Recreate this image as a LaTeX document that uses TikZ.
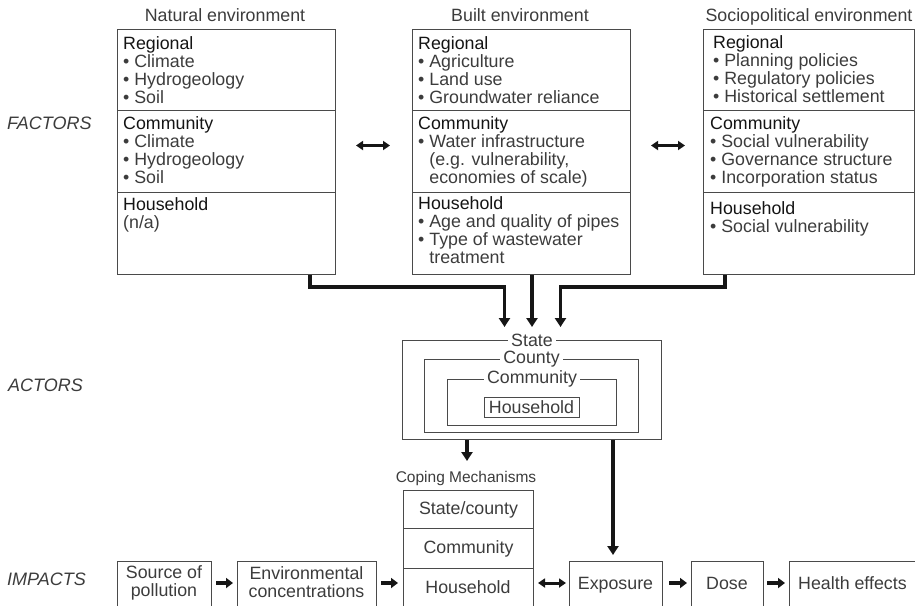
\documentclass[tikz,border=0pt]{standalone}
\usepackage{fontspec}
\setmainfont{Liberation Sans}
\usetikzlibrary{arrows.meta,calc}
\definecolor{itemc}{HTML}{3C3C3C}
\definecolor{headc}{HTML}{141414}
\definecolor{linec}{HTML}{4A4A4A}
\definecolor{arrc}{HTML}{161616}
\newcommand\mainfs{\fontsize{17.8}{18}\selectfont}
\begin{document}
\begin{tikzpicture}[x=1pt,y=-1pt,
  item/.style={inner sep=0pt, text=itemc, font=\mainfs, anchor=base west},
  head/.style={item, text=headc},
  title/.style={inner sep=0pt, text=itemc, font=\mainfs, anchor=base},
  side/.style={inner sep=0pt, text=itemc, font=\fontsize{18}{18}\selectfont\itshape, anchor=base west},
  panel/.style={draw=linec, line width=1pt, anchor=north west, inner sep=0pt},
  rule/.style={draw=linec, line width=1pt},
  frame/.style={draw=linec, line width=1pt, anchor=north west, inner sep=0pt, text=itemc, font=\mainfs},
  tag/.style={fill=white, inner xsep=3pt, inner ysep=0pt, text=itemc, font=\mainfs},
  conn/.style={draw=arrc, line width=3.5pt, -{Triangle[length=9pt,width=11pt]}},
  small/.style={draw=arrc, line width=3.5pt, -{Triangle[length=7pt,width=10pt]}},
  both/.style={draw=arrc, line width=3pt, {Triangle[length=7pt,width=9pt]}-{Triangle[length=7pt,width=9pt]}},
]
\useasboundingbox (0,0) rectangle (915,605);
\clip (0,0) rectangle (915,605);

% titles
\node[title] (tnat) at (225,21) {Natural environment};
\node[title] (tbuilt) at (520,21) {Built environment};
\node[title] (tsoc) at (809,21) {Sociopolitical environment};

% side labels
\node[side] (lfac) at (7,129) {FACTORS};
\node[side] (lact) at (8,391) {ACTORS};
\node[side] (limp) at (7,585) {IMPACTS};

% factor panels
\node[panel, minimum width=218pt, minimum height=245pt] (nat) at (117,29) {};
\node[panel, minimum width=218pt, minimum height=245pt] (built) at (412,29) {};
\node[panel, minimum width=211pt, minimum height=245pt] (soc) at (703,29) {};
\foreach \p in {nat,built,soc}{
  \draw[rule] ($(\p.north west)+(0,81)$) -- ($(\p.north east)+(0,81)$);
  \draw[rule] ($(\p.north west)+(0,163)$) -- ($(\p.north east)+(0,163)$);
}

% natural
\node[head] (n1) at (123,49) {Regional};
\node[item] (n2) at (123,67) {• Climate};
\node[item] (n3) at (123,85) {• Hydrogeology};
\node[item] (n4) at (123,103) {• Soil};
\node[head] (n5) at (123,129) {Community};
\node[item] (n6) at (123,147) {• Climate};
\node[item] (n7) at (123,165) {• Hydrogeology};
\node[item] (n8) at (123,183) {• Soil};
\node[head] (n9) at (123,210) {Household};
\node[item] (n10) at (123,228) {(n/a)};

% built
\node[head] (b1) at (418,49) {Regional};
\node[item] (b2) at (418,67) {• Agriculture};
\node[item] (b3) at (418,85) {• Land use};
\node[item] (b4) at (418,103) {• Groundwater reliance};
\node[head] (b5) at (418,129) {Community};
\node[item] (b6) at (418,147) {• Water infrastructure};
\node[item] (b7) at (418,165) {\phantom{• }(e.g. vulnerability,};
\node[item] (b8) at (418,183) {\phantom{• }economies of scale)};
\node[head] (b9) at (418,209) {Household};
\node[item] (b10) at (418,227) {• Age and quality of pipes};
\node[item] (b11) at (418,245) {• Type of wastewater};
\node[item] (b12) at (418,263) {\phantom{• }treatment};

% sociopolitical
\node[head] (s1) at (713,48) {Regional};
\node[item] (s2) at (713,66) {• Planning policies};
\node[item] (s3) at (713,84) {• Regulatory policies};
\node[item] (s4) at (713,102) {• Historical settlement};
\node[head] (s5) at (710,129) {Community};
\node[item] (s6) at (710,147) {• Social vulnerability};
\node[item] (s7) at (710,165) {• Governance structure};
\node[item] (s8) at (710,183) {• Incorporation status};
\node[head] (s9) at (710,214) {Household};
\node[item] (s10) at (710,232) {• Social vulnerability};

% links between panels
\draw[both] ($(nat.east)+(20,-6.5)$) -- ($(built.west)+(-22,-6.5)$);
\draw[both] ($(built.east)+(20,-6.5)$) -- ($(soc.west)+(-18,-6.5)$);

% actors
\node[frame, minimum width=259pt, minimum height=99pt] (state) at (402,340) {};
\node[frame, minimum width=214pt, minimum height=73pt] (county) at (424,359) {};
\node[frame, minimum width=169pt, minimum height=46pt] (comm) at (447,379) {};
\node[draw=linec, line width=1pt, minimum width=95pt, minimum height=20pt, inner sep=0pt, text=itemc, font=\mainfs] (house) at (531.5,407) {Household};
\node[tag] (statel) at (state.north) {State};
\node[tag] (countyl) at (county.north) {County};
\node[tag] (comml) at (comm.north) {Community};

% factors to actors
\draw[conn] ($(nat.south west)+(193,0)$) |- ($(state.north)+(-27.5,-53)$) -- ($(state.north)+(-27.5,-13)$);
\draw[conn] (built.south -| state.north) -- ($(state.north)+(0,-13)$);
\draw[conn] ($(soc.south west)+(22,0)$) |- ($(state.north)+(28.5,-53)$) -- ($(state.north)+(28.5,-13)$);

% coping mechanisms
\node[inner sep=0pt, text=itemc, font=\fontsize{15.5}{16}\selectfont] (copelbl) at (466,478) {Coping Mechanisms};
\node[frame, minimum width=130pt, minimum height=38pt] (copes) at (403,490) {State/county};
\node[frame, minimum width=130pt, minimum height=40pt] (copec) at (403,528) {Community};
\node[frame, minimum width=130pt, minimum height=50pt] (copeh) at (403,568) {};
\node[title] (copeht) at (468,593) {Household};

% impacts
\node[frame, minimum width=94pt, minimum height=60pt] (src) at (117,561) {};
\node[inner sep=0pt, text=itemc, font=\mainfs, align=center] (srct) at (164,582.5) {Source of\\pollution};
\node[frame, minimum width=139pt, minimum height=60pt] (env) at (237,561) {};
\node[inner sep=0pt, text=itemc, font=\mainfs, align=center] (envt) at (306.5,582.5) {Environmental\\concentrations};
\node[frame, minimum width=93pt, minimum height=60pt] (expo) at (569,561) {};
\node[title] (expot) at (615.5,589) {Exposure};
\node[frame, minimum width=72pt, minimum height=60pt] (dose) at (691,561) {};
\node[title] (doset) at (727,589) {Dose};
\node[frame, minimum width=150pt, minimum height=60pt] (health) at (789,561) {};
\node[item] (healtht) at (798,589) {Health effects};

% actors to impacts
\draw[conn] ($(state.south west)+(65,0)$) -- ($(state.south west)+(65,21)$);
\draw[conn] ($(state.south west)+(211,0)$) -- ($(expo.north west)+(44,-6)$);

% impact chain
\draw[small] ($(src.north east)+(4,22)$) -- ($(env.north west)+(-4,22)$);
\draw[small] ($(env.north east)+(4,22)$) -- ($(copeh.north west)+(-5,15)$);
\draw[both] ($(copeh.north east)+(4,15)$) -- ($(expo.north west)+(-3,22)$);
\draw[small] ($(expo.north east)+(6,22)$) -- ($(dose.north west)+(-4,22)$);
\draw[small] ($(dose.north east)+(3,22)$) -- ($(health.north west)+(-4,22)$);
\end{tikzpicture}
\end{document}
